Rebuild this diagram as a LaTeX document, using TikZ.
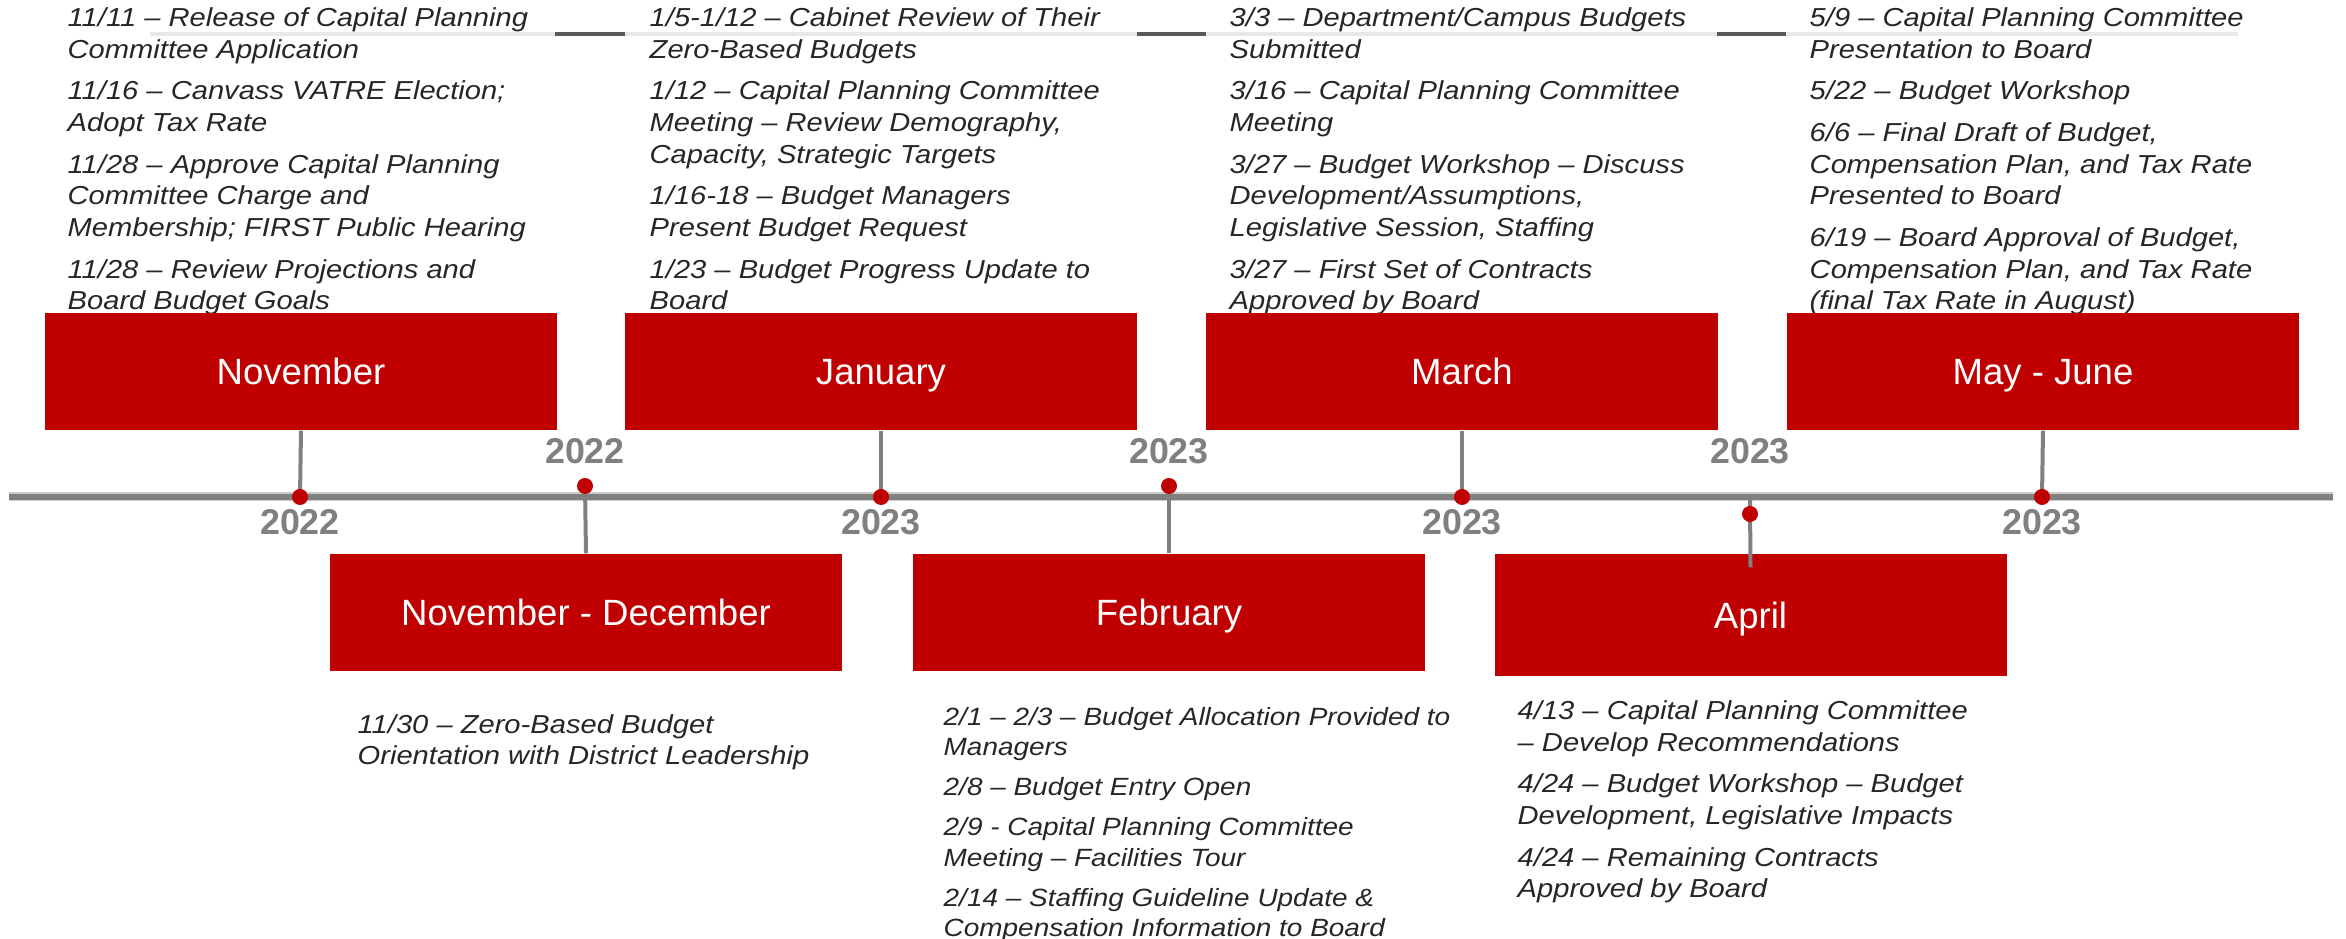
\documentclass[tikz,border=0pt]{standalone}
\usepackage{fontspec}
\setmainfont{Liberation Sans}
\newfontfamily\itemfont[FakeStretch=1.12]{Liberation Sans}
\usetikzlibrary{positioning}

\definecolor{budgetred}{RGB}{192,0,0}
\definecolor{axisgray}{RGB}{128,128,128}
\definecolor{itemgray}{RGB}{38,38,38}
\definecolor{rulegray}{RGB}{89,89,89}
\definecolor{rulelight}{RGB}{232,232,232}

\tikzset{
  monthbox/.style={fill=budgetred, text=white, minimum width=5.12cm, minimum height=1.17cm, inner sep=0pt, text height=7.5pt, text depth=0pt, font=\fontsize{10.4}{12}\selectfont},
  yearlabel/.style={text=axisgray, inner sep=0pt, font=\fontsize{10.2}{12}\selectfont\bfseries},
  stem/.style={draw=axisgray, line width=0.04cm},
  items/.style={anchor=base west, inner sep=0pt, align=left, text=itemgray, font=\itemfont\itshape\fontsize{7.4}{9.02}\selectfont},
  smallitems/.style={items, font=\itemfont\itshape\fontsize{7.1}{8.7}\selectfont},
}
\newcommand{\gap}{\\[2.85pt]}

\begin{document}
\begin{tikzpicture}
\useasboundingbox (0,0) rectangle (23.46,9.39);

% thin rule behind the top notes
\draw[line width=0.033cm, rulegray] (5.55,9.05) -- (6.25,9.05) (11.37,9.05) -- (12.06,9.05) (17.17,9.05) -- (17.86,9.05);
\draw[line width=0.033cm, rulelight] (1.50,9.05) -- (5.55,9.05) (6.25,9.05) -- (11.37,9.05) (12.06,9.05) -- (17.17,9.05) (17.86,9.05) -- (22.38,9.05);

% notes above the line (anchored on their last line)
\node[items] (tnov) at (0.67,6.29) {11/11 – Release of Capital Planning\\Committee Application\gap
11/16 – Canvass VATRE Election;\\Adopt Tax Rate\gap
11/28 – Approve Capital Planning\\Committee Charge and\\Membership; FIRST Public Hearing\gap
11/28 – Review Projections and\\Board Budget Goals};
\node[items] (tjan) at (6.49,6.29) {1/5-1/12 – Cabinet Review of Their\\Zero-Based Budgets\gap
1/12 – Capital Planning Committee\\Meeting – Review Demography,\\Capacity, Strategic Targets\gap
1/16-18 – Budget Managers\\Present Budget Request\gap
1/23 – Budget Progress Update to\\Board};
\node[items] (tmar) at (12.29,6.29) {3/3 – Department/Campus Budgets\\Submitted\gap
3/16 – Capital Planning Committee\\Meeting\gap
3/27 – Budget Workshop – Discuss\\Development/Assumptions,\\Legislative Session, Staffing\gap
3/27 – First Set of Contracts\\Approved by Board};
\node[items] (tmay) at (18.09,6.29) {5/9 – Capital Planning Committee\\Presentation to Board\gap
5/22 – Budget Workshop\gap
6/6 – Final Draft of Budget,\\Compensation Plan, and Tax Rate\\Presented to Board\gap
6/19 – Board Approval of Budget,\\Compensation Plan, and Tax Rate\\(final Tax Rate in August)};

% notes below the line
\node[items] (tnovdec) at (3.57,1.74) {11/30 – Zero-Based Budget\\Orientation with District Leadership};
\node[smallitems] (tfeb) at (9.43,0.02) {2/1 – 2/3 – Budget Allocation Provided to\\Managers\\[2.7pt]
2/8 – Budget Entry Open\\[2.7pt]
2/9 - Capital Planning Committee\\Meeting – Facilities Tour\\[2.7pt]
2/14 – Staffing Guideline Update \&\\Compensation Information to Board};
\node[items] (tapr) at (15.17,0.41) {4/13 – Capital Planning Committee\\– Develop Recommendations\gap
4/24 – Budget Workshop – Budget\\Development, Legislative Impacts\gap
4/24 – Remaining Contracts\\Approved by Board};

% month boxes
\node[monthbox] (nov) at (3.01,5.675) {November};
\node[monthbox] (jan) at (8.81,5.675) {January};
\node[monthbox] (mar) at (14.62,5.675) {March};
\node[monthbox] (mayjun) at (20.43,5.675) {May - June};
\node[monthbox] (novdec) at (5.86,3.265) {November - December};
\node[monthbox] (feb) at (11.69,3.265) {February};
\node[monthbox, minimum height=1.22cm] (apr) at (17.505,3.24) {April};

% time line
\coordinate (axl) at (0.09,4.42);
\coordinate (axr) at (23.33,4.42);
\draw[line width=0.09cm, axisgray!40] (axl) -- (axr);
\draw[line width=0.065cm, axisgray] (axl) -- (axr);

% dot places
\coordinate (dnov) at (3.00,4.42);
\coordinate (djan) at (8.81,4.42);
\coordinate (dmar) at (14.62,4.42);
\coordinate (dmayjun) at (20.42,4.42);
\coordinate (dnovdec) at (5.85,4.53);
\coordinate (dfeb) at (11.69,4.53);
\coordinate (dapr) at (17.50,4.25);
\coordinate (aprtop) at (17.50,4.39);

% stems
\draw[stem] (nov.south) -- (dnov);
\draw[stem] (jan.south) -- (djan);
\draw[stem] (mar.south) -- (dmar);
\draw[stem] (mayjun.south) -- (dmayjun);
\draw[stem] (dnovdec) -- (novdec.north);
\draw[stem] (dfeb) -- (feb.north);
\draw[stem] (aprtop) -- ([yshift=-0.14cm]apr.north);

\foreach \d in {dnov,djan,dmar,dmayjun,dnovdec,dfeb,dapr} {
    \fill[budgetred] (\d) circle (0.08cm);
}

% years
\node[yearlabel] (ynov) at (3.00,4.17) {2022};
\node[yearlabel] (yjan) at (8.81,4.17) {2023};
\node[yearlabel] (ymar) at (14.62,4.17) {2023};
\node[yearlabel] (ymayjun) at (20.42,4.17) {2023};
\node[yearlabel] (ynovdec) at (5.85,4.88) {2022};
\node[yearlabel] (yfeb) at (11.69,4.88) {2023};
\node[yearlabel] (yapr) at (17.50,4.88) {2023};
\end{tikzpicture}
\end{document}
